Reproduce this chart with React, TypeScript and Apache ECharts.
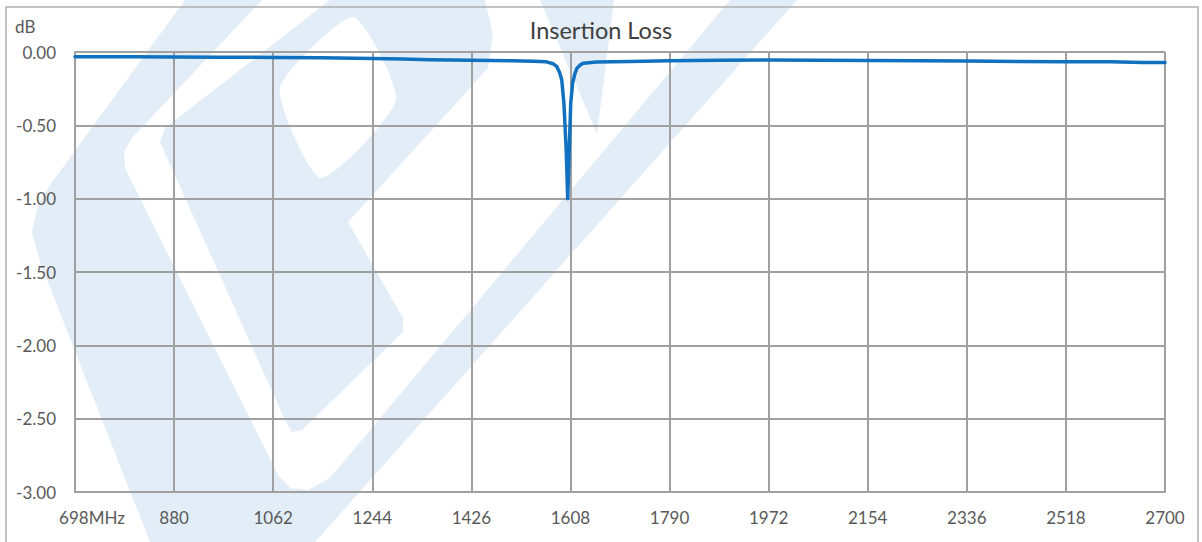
import React, { useEffect, useRef } from 'react';
import * as echarts from 'echarts';

// Frequency (MHz) and insertion loss (dB)
const freqMHz = [
  698, 740, 800, 880, 960, 1062, 1150, 1244, 1300, 1350, 1426, 1500, 1540, 1564,
  1576, 1583, 1588, 1592, 1596, 1600, 1603, 1606, 1608.5, 1612, 1616, 1620, 1626,
  1632, 1656, 1717, 1790, 1880, 1972, 2060, 2154, 2250, 2336, 2430, 2518, 2600,
  2660, 2700,
];
const lossDb = [
  -0.032, -0.032, -0.033, -0.034, -0.035, -0.037, -0.040, -0.044, -0.048, -0.052,
  -0.057, -0.060, -0.063, -0.067, -0.080, -0.100, -0.140, -0.190, -0.350, -0.650,
  -1.000, -0.650, -0.350, -0.210, -0.150, -0.110, -0.088, -0.076, -0.068, -0.064,
  -0.060, -0.057, -0.055, -0.056, -0.058, -0.060, -0.062, -0.064, -0.066, -0.067,
  -0.072, -0.072,
];
const xStart = 698;
const xStep = 182;
const xEnd = 2700;
const yMin = -3;
const yMax = 0;
const yStep = 0.5;
const titleText = 'Insertion Loss';
const yUnit = 'dB';
const xUnit = 'MHz';

const FONT = 'Lato';
const GRID = '#a0a0a0';
const LABEL = '#595959';
const WM = '#e3edf7';

export default function App() {
  const ref = useRef<HTMLDivElement>(null);
  useEffect(() => {
    const chart = echarts.init(ref.current as HTMLDivElement, null, { renderer: 'svg' });
    chart.setOption({
      animation: false,
      backgroundColor: '#ffffff',
      title: {
        text: titleText,
        left: 'center',
        top: 18,
        padding: 0,
        textStyle: { fontFamily: FONT, fontSize: 23.5, fontWeight: 'normal', color: '#404040' },
      },
      grid: { left: 75, right: 37, top: 52, bottom: 50, containLabel: false, outerBoundsMode: 'none' },
      xAxis: {
        type: 'value',
        min: 0,
        max: xEnd - xStart,
        interval: xStep,
        axisLine: { show: true, onZero: false, lineStyle: { color: GRID, width: 2 } },
        axisTick: { show: false },
        splitLine: { show: true, lineStyle: { color: GRID, width: 2 } },
        axisLabel: {
          show: true,
          margin: 17,
          color: LABEL,
          fontFamily: FONT,
          fontSize: 17,
          showMinLabel: true,
          showMaxLabel: true,
          hideOverlap: false,
          formatter: (v: number) =>
            v === 0 ? `{a|${xStart}${xUnit}}` : String(Math.round(v + xStart)),
          rich: {
            a: { fontFamily: FONT, fontSize: 17, color: LABEL, padding: [0, 0, 0, 34] },
          },
        },
      },
      yAxis: {
        type: 'value',
        min: yMin,
        max: yMax,
        interval: yStep,
        axisLine: { show: true, lineStyle: { color: GRID, width: 2 } },
        axisTick: { show: false },
        splitLine: { show: true, lineStyle: { color: GRID, width: 2 } },
        axisLabel: {
          margin: 19,
          color: LABEL,
          fontFamily: FONT,
          fontSize: 17,
          formatter: (v: number) => v.toFixed(2),
        },
      },
      series: [
        {
          type: 'line',
          data: freqMHz.map((f, i) => [f - xStart, lossDb[i]]),
          showSymbol: false,
          symbol: 'none',
          smooth: false,
          lineStyle: { color: '#0f71bf', width: 3.5, cap: 'round', join: 'round' },
          itemStyle: { color: '#0f71bf' },
          z: 5,
        },
      ],
      graphic: [
        {
          type: 'polygon',
          silent: true,
          z: -10,
          shape: {
            points: [
              [185, 0], [262, 0], [132, 138], [124, 152], [125, 168], [278, 475],
              [290, 488], [308, 490], [330, 478], [730, 0], [797, 0], [315, 542],
              [150, 542], [40, 262], [32, 232], [38, 205], [50, 185],
            ],
          },
          style: { fill: WM },
        },
        {
          type: 'polygon',
          silent: true,
          z: -10,
          shape: {
            points: [
              [330, 0], [485, 0], [493, 35], [488, 68], [400, 165], [348, 222],
              [403, 318], [403, 332], [302, 430], [292, 432], [285, 420], [160, 142],
              [165, 128],
            ],
          },
          style: { fill: WM },
        },
        {
          type: 'polygon',
          silent: true,
          z: -9,
          shape: {
            points: [[353, 17], [396, 100], [321, 178], [280, 88]],
            smooth: 0.2,
          },
          style: { fill: '#ffffff' },
        },
        {
          type: 'polygon',
          silent: true,
          z: -10,
          shape: { points: [[540, 0], [614, 0], [597, 134]] },
          style: { fill: WM },
        },
        {
          type: 'text',
          x: 15,
          y: 26,
          z: 10,
          style: {
            text: yUnit,
            fontFamily: FONT,
            fontSize: 17,
            fill: LABEL,
            verticalAlign: 'middle',
          },
        },
        {
          type: 'rect',
          silent: true,
          z: 10,
          shape: { x: 6, y: 7, width: 1192, height: 600 },
          style: { fill: 'none', stroke: '#b0b0b0', lineWidth: 1.5 },
        },
      ],
    });
    return () => chart.dispose();
  }, []);
  return (
    <div
      ref={ref}
      style={{ position: 'fixed', left: 0, top: 0, width: 1202, height: 542 }}
    />
  );
}
